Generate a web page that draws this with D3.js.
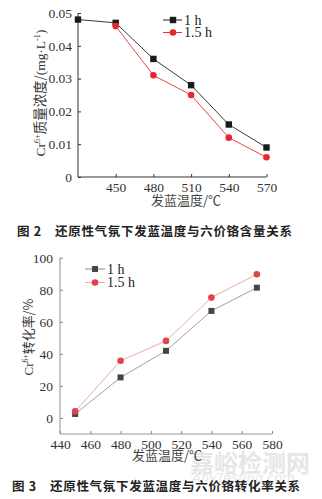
<!DOCTYPE html>
<html><head><meta charset="utf-8">
<script src="https://cdn.jsdelivr.net/npm/d3@7"></script>
<style>
html,body{margin:0;padding:0;background:#fff;}
svg{display:block;}
</style></head>
<body>
<svg id="c" width="322" height="499"></svg>
<script>
// Figure 2: Cr6+ concentration vs bluing temperature
const tempsA = [420, 450, 480, 510, 540, 570];
const concA1h = [0.048, 0.047, 0.036, 0.028, 0.016, 0.009];
const tempsA15 = [450, 480, 510, 540, 570];
const concA15h = [0.046, 0.031, 0.025, 0.012, 0.006];
const xTicksA = [450, 480, 510, 540, 570];
const yTicksA = [0, 0.01, 0.02, 0.03, 0.04, 0.05];

// Figure 3: Cr6+ conversion rate vs bluing temperature
const tempsB = [450, 480, 510, 540, 570];
const rateB1h = [2.5, 25.3, 41.9, 66.8, 81.3];
const rateB15h = [4.1, 35.7, 48.1, 75.1, 89.7];
const xTicksB = [440, 460, 480, 500, 520, 540, 560, 580];
const yTicksB = [0, 20, 40, 60, 80, 100];

const seriesNames = ["1 h", "1.5 h"];
const captionA = "图 2　还原性气氛下发蓝温度与六价铬含量关系";
const captionB = "图 3　还原性气氛下发蓝温度与六价铬转化率关系";
const xTitle = "发蓝温度/℃";

const svg = d3.select("#c");
const serif = '"Liberation Serif","DejaVu Serif",serif';
const cjk = '"Noto Sans CJK SC","Noto Sans",sans-serif';

// rotated axis title, scaled so that it spans a given length
function yTitle(g, cx, cy, len, parts) {
  const outer = g.append("g").attr("transform", `translate(${cx},${cy}) rotate(-90)`);
  const t = outer.append("text").attr("text-anchor", "middle").attr("font-size", 13).attr("fill", "#333");
  parts.forEach(p => {
    const s = t.append("tspan").attr("font-family", p.cjk ? cjk : serif).text(p.t);
    if (p.sup) s.attr("font-size", 8).attr("dy", -5);
    if (p.down) s.attr("dy", 5);
  });
  const w = t.node().getComputedTextLength();
  if (w > 0) t.attr("transform", `scale(${len / w})`);
}

// ---------- Figure 2 ----------
{
  const x = d3.scaleLinear().domain([420, 570]).range([78, 266.5]);
  const y = d3.scaleLinear().domain([0, 0.05]).range([177, 13]);
  const g = svg.append("g");
  const ya = g.append("g").attr("transform", "translate(78,0)")
    .call(d3.axisLeft(y).tickValues(yTicksA).tickSize(-3).tickPadding(6)
      .tickFormat(d => d === 0 ? "0" : d3.format(".2f")(d)));
  const xa = g.append("g").attr("transform", "translate(0,177)")
    .call(d3.axisBottom(x).tickValues(xTicksA).tickSize(-3).tickPadding(5));
  [ya, xa].forEach(a => {
    a.select(".domain").attr("stroke", "#333").attr("stroke-width", 1);
    a.selectAll(".tick line").attr("stroke", "#333");
    a.selectAll("text").attr("font-family", serif).attr("font-size", 13.5).attr("fill", "#333");
  });
  xa.select(".domain").attr("d", "M78,0H266.5");
  ya.select(".domain").attr("d", "M0,177V13");

  const line = d3.line().x(d => x(d[0])).y(d => y(d[1]));
  const d1 = tempsA.map((t, i) => [t, concA1h[i]]);
  const d2 = tempsA15.map((t, i) => [t, concA15h[i]]);
  g.append("path").attr("d", line(d2)).attr("fill", "none").attr("stroke", "#e8303a").attr("stroke-width", 0.9);
  g.append("path").attr("d", line(d1)).attr("fill", "none").attr("stroke", "#222").attr("stroke-width", 0.9);
  g.selectAll(".sqA").data(d1).enter().append("rect")
    .attr("x", d => x(d[0]) - 3.2).attr("y", d => y(d[1]) - 3.2)
    .attr("width", 6.4).attr("height", 6.4).attr("fill", "#1a1a1a");
  g.selectAll(".ciA").data(d2).enter().append("circle")
    .attr("cx", d => x(d[0])).attr("cy", d => y(d[1])).attr("r", 3.3).attr("fill", "#e8262b");

  // legend
  const lg = g.append("g");
  lg.append("line").attr("x1", 163).attr("x2", 182).attr("y1", 20).attr("y2", 20).attr("stroke", "#222");
  lg.append("rect").attr("x", 169.8).attr("y", 16.8).attr("width", 6.4).attr("height", 6.4).attr("fill", "#1a1a1a");
  lg.append("line").attr("x1", 163).attr("x2", 182).attr("y1", 32.5).attr("y2", 32.5).attr("stroke", "#e8303a");
  lg.append("circle").attr("cx", 173).attr("cy", 32.5).attr("r", 3.3).attr("fill", "#e8262b");
  lg.selectAll("text").data(seriesNames).enter().append("text")
    .attr("x", 184).attr("y", (d, i) => 20 + i * 12.5).attr("dy", "0.35em")
    .attr("font-family", serif).attr("font-size", 14).attr("fill", "#222").text(d => d);

  yTitle(g, 45, 93, 127, [
    { t: "Cr" }, { t: "6+", sup: true }, { t: "质量浓度/", cjk: true, down: true },
    { t: "(mg·L" }, { t: "-1", sup: true }, { t: ")", down: true }
  ]);

  g.append("text").attr("x", 186).attr("y", 200).attr("dy", "0.35em").attr("text-anchor", "middle")
    .attr("font-family", cjk).attr("font-size", 13).attr("fill", "#444").text(xTitle);

  g.append("text").attr("x", 17).attr("y", 232).attr("dy", "0.35em")
    .attr("font-family", cjk).attr("font-weight", "bold").attr("font-size", 12.5)
    .attr("letter-spacing", 0.7).attr("fill", "#222").text(captionA);
}

// ---------- Figure 3 ----------
{
  const x = d3.scaleLinear().domain([440, 580]).range([60, 272]);
  const y = d3.scaleLinear().domain([-10, 100]).range([434, 257.7]);
  const g = svg.append("g");

  // site watermark, drawn first so chart text sits on top
  g.append("text").attr("x", 190).attr("y", 464).attr("dy", "0.35em")
    .attr("font-family", cjk).attr("font-weight", "bold").attr("font-size", 24)
    .attr("fill", "#e6e6e6").text("嘉峪检测网");
  g.append("text").attr("x", 192).attr("y", 477).attr("dy", "0.35em")
    .attr("font-family", '"DejaVu Sans",sans-serif').attr("font-style", "italic").attr("font-size", 13)
    .attr("fill", "#e8e8e8").text("AnyTesting.com");

  const ya = g.append("g").attr("transform", "translate(60,0)")
    .call(d3.axisLeft(y).tickValues(yTicksB).tickSize(-3).tickPadding(7));
  const xa = g.append("g").attr("transform", "translate(0,434)")
    .call(d3.axisBottom(x).tickValues(xTicksB).tickSize(-3).tickPadding(5));
  [ya, xa].forEach(a => {
    a.select(".domain").attr("stroke", "#999").attr("stroke-width", 1.1);
    a.selectAll(".tick line").attr("stroke", "#888");
    a.selectAll("text").attr("font-family", serif).attr("font-size", 13.5).attr("fill", "#333");
  });
  xa.select(".domain").attr("d", "M60,0H272");
  ya.select(".domain").attr("d", "M0,434V257.7");

  const line = d3.line().x(d => x(d[0])).y(d => y(d[1]));
  const d1 = tempsB.map((t, i) => [t, rateB1h[i]]);
  const d2 = tempsB.map((t, i) => [t, rateB15h[i]]);
  g.append("path").attr("d", line(d2)).attr("fill", "none").attr("stroke", "#f2a8ac").attr("stroke-width", 1);
  g.append("path").attr("d", line(d1)).attr("fill", "none").attr("stroke", "#8a8a8a").attr("stroke-width", 0.8);
  g.selectAll(".sqB").data(d1).enter().append("rect")
    .attr("x", d => x(d[0]) - 3).attr("y", d => y(d[1]) - 3)
    .attr("width", 6).attr("height", 6).attr("fill", "#454545");
  g.selectAll(".ciB").data(d2).enter().append("circle")
    .attr("cx", d => x(d[0])).attr("cy", d => y(d[1])).attr("r", 3.3).attr("fill", "#e3414b");

  const lg = g.append("g");
  lg.append("line").attr("x1", 85).attr("x2", 105).attr("y1", 269).attr("y2", 269).attr("stroke", "#8a8a8a");
  lg.append("rect").attr("x", 92).attr("y", 266).attr("width", 6).attr("height", 6).attr("fill", "#454545");
  lg.append("line").attr("x1", 85).attr("x2", 105).attr("y1", 282.5).attr("y2", 282.5).attr("stroke", "#f2a8ac");
  lg.append("circle").attr("cx", 95).attr("cy", 282.5).attr("r", 3.3).attr("fill", "#e3414b");
  lg.selectAll("text").data(seriesNames).enter().append("text")
    .attr("x", 107).attr("y", (d, i) => 269 + i * 13.5).attr("dy", "0.35em")
    .attr("font-family", serif).attr("font-size", 14).attr("fill", "#222").text(d => d);

  yTitle(g, 33, 337, 77, [
    { t: "Cr" }, { t: "6+", sup: true }, { t: "转化率/%", cjk: true, down: true }
  ]);

  g.append("text").attr("x", 167).attr("y", 455).attr("dy", "0.35em").attr("text-anchor", "middle")
    .attr("font-family", cjk).attr("font-size", 13).attr("fill", "#444").text(xTitle);

  g.append("text").attr("x", 12).attr("y", 487).attr("dy", "0.35em")
    .attr("font-family", cjk).attr("font-weight", "bold").attr("font-size", 12.5)
    .attr("letter-spacing", 0.7).attr("fill", "#222").text(captionB);
}
</script>
</body></html>
